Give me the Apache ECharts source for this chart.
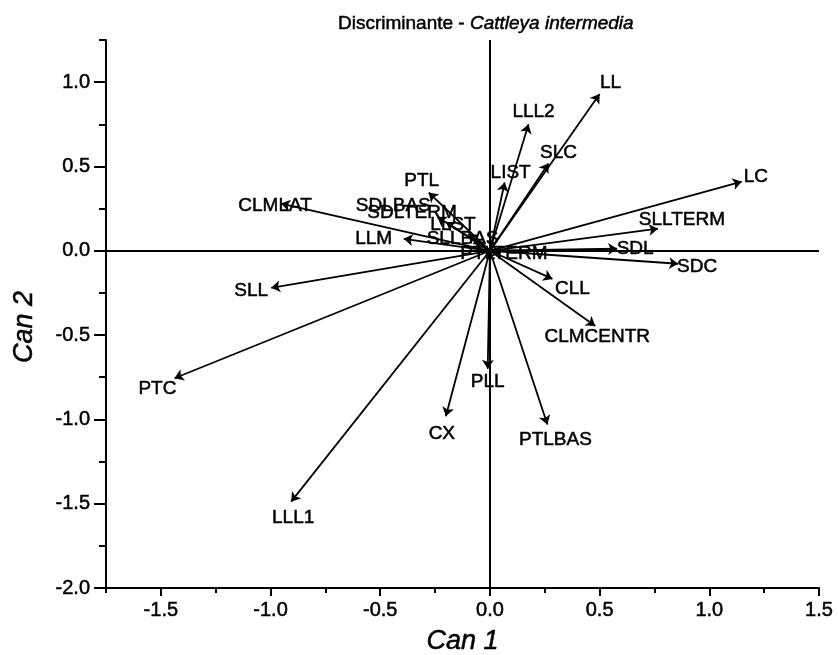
<!DOCTYPE html>
<html>
<head>
<meta charset="utf-8">
<script src="https://cdn.jsdelivr.net/npm/echarts@6/dist/echarts.min.js"></script>
<style>
  html, body { margin: 0; padding: 0; background: #fff; }
  #chart { width: 838px; height: 655px; }
</style>
</head>
<body>
<div id="chart"></div>
<script>
// Canonical discriminant loadings (Can 1, Can 2) for each measured trait
const variables = ['LL', 'LLL2', 'SLC', 'LIST', 'LC', 'SLLTERM', 'SDL', 'SDC', 'CLL', 'CLMCENTR',
  'PTLBAS', 'PLL', 'CX', 'LLL1', 'PTC', 'SLL', 'CLMLAT', 'LLM', 'PTL', 'SDLBAS', 'SDLTERM',
  'LLST', 'SLLBAS', 'PTLTERM'];
const can1 = [0.50, 0.176, 0.267, 0.067, 1.148, 0.766, 0.58, 0.858, 0.285, 0.48,
  0.262, -0.01, -0.201, -0.906, -1.438, -0.997, -0.952, -0.393, -0.279, -0.24, -0.2,
  -0.1, -0.07, 0.05];
const can2 = [0.93, 0.75, 0.518, 0.405, 0.41, 0.131, 0.012, -0.077, -0.167, -0.446,
  -1.03, -0.70, -0.982, -1.488, -0.756, -0.22, 0.28, 0.071, 0.345, 0.2, 0.17,
  0.1, 0.05, -0.01];

// Axis ticks
const xTicks = [-1.5, -1.0, -0.5, 0.0, 0.5, 1.0, 1.5];
const xMinorTicks = [-1.75, -1.25, -0.75, -0.25, 0.25, 0.75, 1.25];
const yTicks = [-2.0, -1.5, -1.0, -0.5, 0.0, 0.5, 1.0];
const yMinorTicks = [-1.75, -1.25, -0.75, -0.25, 0.25, 0.75, 1.25];

// Label placement (pixel offset of each label centre from its arrow tip)
const labelOffsets = {
  LL: [11, -11], LLL2: [5, -13], SLC: [10, -11], LIST: [6, -10], LC: [14, -5],
  SLLTERM: [24, -9], SDL: [18, 0], SDC: [19, 3], CLL: [20, 10], CLMCENTR: [2, 11],
  PTLBAS: [8, 15], PLL: [0, 13], CX: [-4, 17], LLL1: [2, 16], PTC: [-17, 11],
  SLL: [-20, 3], CLMLAT: [-6, 2], LLM: [-30, 0], PTL: [-7, -12], SDLBAS: [-44, -11],
  SDLTERM: [-34, -9], LLST: [-15, -9], SLLBAS: [-12, -4], PTLTERM: [3, 1]
};

const FONT = 'Liberation Sans, Arial, Helvetica, sans-serif';
const fmt = v => v.toFixed(1);
// slightly heavy lettering, as in the printed figure
const heavy = { textBorderColor: '#000', textBorderWidth: 0.5 };

const arrows = variables.map((n, i) => ({ name: n, coords: [[0, 0], [can1[i], can2[i]]] }));
const tips = variables.map((n, i) => ({
  name: n,
  value: [can1[i], can2[i]],
  label: { offset: labelOffsets[n] }
}));

const axisLine = { show: true, onZero: false, lineStyle: { color: '#000', width: 2 } };

const option = {
  backgroundColor: '#fff',
  animation: false,
  title: {
    text: '{a|Discriminante - }{b|Cattleya intermedia}',
    left: 333,
    top: 9,
    textStyle: {
      fontWeight: 'normal',
      rich: {
        a: Object.assign({ fontFamily: FONT, fontSize: 19, color: '#000', fontWeight: 'normal' }, heavy),
        b: Object.assign({ fontFamily: FONT, fontSize: 19, color: '#000', fontStyle: 'italic', fontWeight: 'normal' }, heavy)
      }
    }
  },
  grid: { left: 106, right: 19, top: 40, bottom: 67, containLabel: false, outerBoundsMode: 'none' },
  xAxis: [
    {
      type: 'value', min: -1.75, max: 1.5, position: 'bottom',
      axisLine,
      splitLine: { show: false },
      axisTick: { show: true, length: 8, lineStyle: { color: '#000', width: 2 }, customValues: xTicks },
      axisLabel: Object.assign({
        customValues: xTicks, formatter: fmt, color: '#000', fontFamily: FONT, fontSize: 20, margin: 12
      }, heavy),
      name: 'Can 1', nameLocation: 'middle', nameGap: 40,
      nameTextStyle: Object.assign({ fontFamily: FONT, fontSize: 27, fontStyle: 'italic', color: '#000' }, heavy)
    },
    {
      type: 'value', min: -1.75, max: 1.5, position: 'bottom',
      axisLine: { show: false, onZero: false },
      splitLine: { show: false },
      axisTick: { show: true, length: 5, lineStyle: { color: '#000', width: 2 }, customValues: xMinorTicks },
      axisLabel: { show: false }
    }
  ],
  yAxis: [
    {
      type: 'value', min: -2.0, max: 1.25, position: 'left',
      axisLine,
      splitLine: { show: false },
      axisTick: { show: true, length: 12, lineStyle: { color: '#000', width: 2 }, customValues: yTicks },
      axisLabel: Object.assign({
        customValues: yTicks, formatter: fmt, color: '#000', fontFamily: FONT, fontSize: 20, margin: 16
      }, heavy),
      name: 'Can 2', nameLocation: 'middle', nameGap: 68, nameRotate: 90,
      nameTextStyle: Object.assign({ fontFamily: FONT, fontSize: 27, fontStyle: 'italic', color: '#000', padding: [0, 0, 0, -26] }, heavy)
    },
    {
      type: 'value', min: -2.0, max: 1.25, position: 'left',
      axisLine: { show: false, onZero: false },
      splitLine: { show: false },
      axisTick: { show: true, length: 7, lineStyle: { color: '#000', width: 2 }, customValues: yMinorTicks },
      axisLabel: { show: false }
    }
  ],
  series: [
    {
      // variable names at the arrow tips, with the zero cross-hair
      type: 'scatter',
      xAxisIndex: 0, yAxisIndex: 0,
      symbolSize: 0,
      z: 2,
      silent: true,
      itemStyle: { color: '#000', opacity: 1 },
      data: tips,
      label: Object.assign({
        show: true, position: 'inside', formatter: '{b}',
        align: 'center', verticalAlign: 'middle', opacity: 1,
        color: '#000', fontFamily: FONT, fontSize: 19
      }, heavy),
      markLine: {
        silent: true,
        symbol: ['none', 'none'],
        label: { show: false },
        lineStyle: { color: '#000', width: 2, type: 'solid' },
        data: [{ xAxis: 0 }, { yAxis: 0 }]
      }
    },
    {
      type: 'lines',
      coordinateSystem: 'cartesian2d',
      xAxisIndex: 0, yAxisIndex: 0,
      z: 3,
      silent: true,
      symbol: ['none', 'arrow'],
      symbolSize: 9,
      lineStyle: { color: '#000', width: 1.8, opacity: 1 },
      data: arrows
    }
  ]
};

const chart = echarts.init(document.getElementById('chart'), null, { renderer: 'canvas' });
chart.setOption(option);
</script>
</body>
</html>
